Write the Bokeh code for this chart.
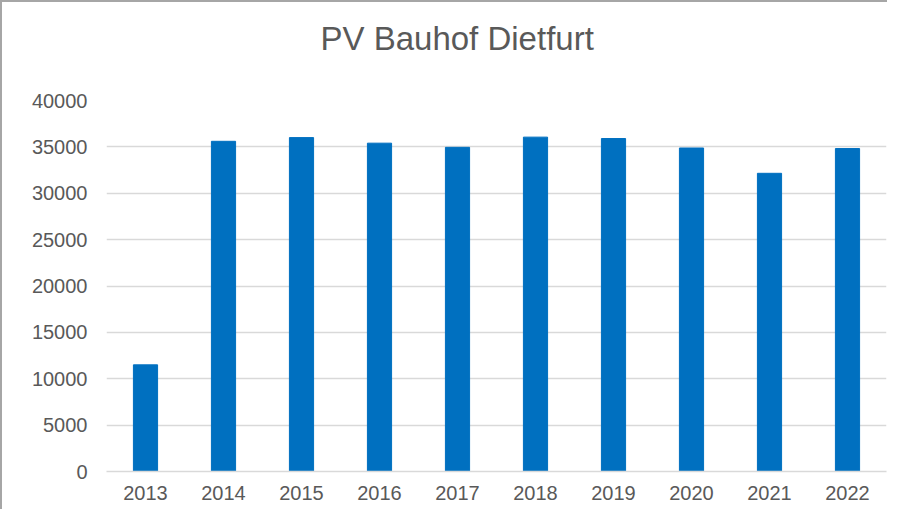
from bokeh.plotting import figure
from bokeh.models import FactorRange, Range1d, SingleIntervalTicker, NumeralTickFormatter, Title
from bokeh.embed import file_html
from bokeh.resources import INLINE

years = ["2013", "2014", "2015", "2016", "2017", "2018", "2019", "2020", "2021", "2022"]
values = [11500, 35600, 36000, 35400, 34950, 36050, 35900, 34880, 32150, 34820]
title_text = "PV Bauhof Dietfurt"

FONT = "Liberation Sans"
TXT = "#595959"
GRID = "#d9d9d9"

p = figure(
    width=887, height=509,
    x_range=FactorRange(*years, range_padding=0),
    y_range=Range1d(0, 40000),
    output_backend="svg", toolbar_location=None,
    min_border_left=104, min_border_right=3, min_border_top=98, min_border_bottom=40,
)
p.styles = {"border-left": "2px solid #a6a6a6", "border-top": "2px solid #a6a6a6"}

# spacer between the plot frame and the main title
p.add_layout(Title(text=" ", text_font_size="10px", standoff=31), "above")

p.title.text = title_text
p.title.align = "left"
p.title.offset = 214
p.title.text_font = FONT
p.title.text_font_size = "33px"
p.title.text_font_style = "normal"
p.title.text_color = TXT
p.title.standoff = 0

p.vbar(x=years, top=values, width=0.31, color="#0070C0")

p.outline_line_color = None
p.xgrid.grid_line_color = None
p.ygrid.grid_line_color = GRID
p.ygrid.grid_line_width = 1.5
p.ygrid.ticker = SingleIntervalTicker(interval=5000)

p.yaxis.ticker = SingleIntervalTicker(interval=5000)
p.yaxis.formatter = NumeralTickFormatter(format="0")
p.yaxis.axis_line_color = None
p.yaxis.major_tick_line_color = None
p.yaxis.minor_tick_line_color = None
p.yaxis.major_tick_out = 0
p.yaxis.major_label_standoff = 15

p.xaxis.axis_line_color = GRID
p.xaxis.axis_line_width = 1.5
p.xaxis.major_tick_line_color = None
p.xaxis.major_tick_out = 0
p.xaxis.major_label_standoff = 14

for ax in (p.xaxis, p.yaxis):
    ax.major_label_text_font = FONT
    ax.major_label_text_font_size = "20px"
    ax.major_label_text_color = TXT

open("out.html", "w").write(file_html(p, INLINE))
